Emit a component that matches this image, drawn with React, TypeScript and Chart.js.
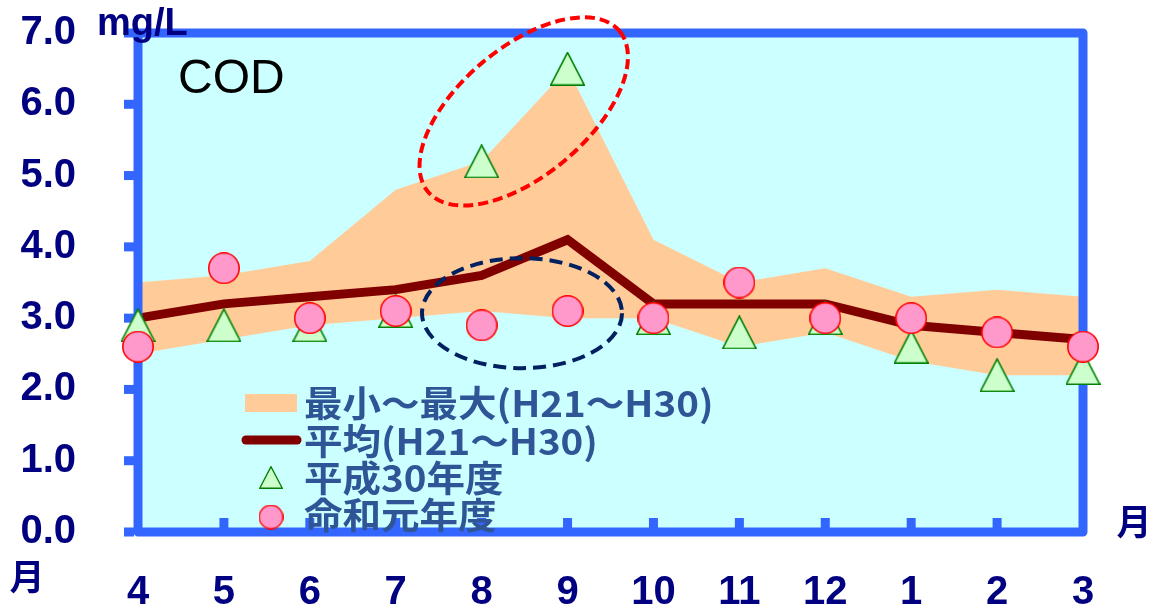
import { useEffect, useRef } from "react";
import { Chart, registerables } from "chart.js";

Chart.register(...registerables);

// Monthly COD readings (mg/L), fiscal year order April -> March
const months = ["4", "5", "6", "7", "8", "9", "10", "11", "12", "1", "2", "3"];
const rangeMax = [3.5, 3.6, 3.8, 4.8, 5.2, 6.5, 4.1, 3.5, 3.7, 3.3, 3.4, 3.3];
const rangeMin = [2.5, 2.7, 2.9, 3.0, 3.1, 3.0, 3.0, 2.6, 2.8, 2.4, 2.2, 2.2];
const averageH21H30 = [3.0, 3.2, 3.3, 3.4, 3.6, 4.1, 3.2, 3.2, 3.2, 2.9, 2.8, 2.7];
const valuesH30 = [2.9, 2.9, 2.9, 3.1, 5.2, 6.5, 3.0, 2.8, 3.0, 2.6, 2.2, 2.3];
const valuesR1 = [2.6, 3.7, 3.0, 3.1, 2.9, 3.1, 3.0, 3.5, 3.0, 3.0, 2.8, 2.6];
const yTickValues = [0, 1, 2, 3, 4, 5, 6, 7];

const labelRange = "最小～最大(H21～H30)";
const labelAverage = "平均(H21～H30)";
const labelH30 = "平成30年度";
const labelR1 = "命和元年度";

const BLUE = "#3366FF";
const NAVY = "#000080";
const PLOT_BG = "#CCFFFF";
const BAND = "#FFCC99";
const AVG = "#800000";
const TRI_FILL = "#CCFFCC";
const TRI_STROKE = "#008000";
const DOT_FILL = "#FF99CC";
const DOT_STROKE = "#FF0000";
const LEGEND_TEXT = "#2F5597";
const LATIN = '"Liberation Sans", Arial, sans-serif';
const CJK = '"Noto Sans CJK JP", "Noto Sans", sans-serif';

function triangleImage(w: number, h: number, lw: number) {
  const c = document.createElement("canvas");
  c.width = w;
  c.height = h;
  const ctx = c.getContext("2d")!;
  ctx.beginPath();
  ctx.moveTo(w / 2, lw / 2);
  ctx.lineTo(w - lw / 2, h - lw / 2);
  ctx.lineTo(lw / 2, h - lw / 2);
  ctx.closePath();
  ctx.fillStyle = TRI_FILL;
  ctx.fill();
  ctx.strokeStyle = TRI_STROKE;
  ctx.lineWidth = lw;
  ctx.stroke();
  return c;
}

function dotImage(w: number, h: number, lw: number) {
  const c = document.createElement("canvas");
  c.width = w;
  c.height = h;
  const ctx = c.getContext("2d")!;
  ctx.beginPath();
  ctx.ellipse(w / 2, h / 2, w / 2 - lw / 2, h / 2 - lw / 2, 0, 0, Math.PI * 2);
  ctx.fillStyle = DOT_FILL;
  ctx.fill();
  ctx.strokeStyle = DOT_STROKE;
  ctx.lineWidth = lw;
  ctx.stroke();
  return c;
}

function stretchedText(
  ctx: CanvasRenderingContext2D,
  text: string,
  x: number,
  y: number,
  sx: number
) {
  ctx.save();
  ctx.translate(x, y);
  ctx.scale(sx, 1);
  ctx.fillText(text, 0, 0);
  ctx.restore();
}

export default function App() {
  const canvasRef = useRef<HTMLCanvasElement | null>(null);

  useEffect(() => {
    const canvas = canvasRef.current;
    if (!canvas) return;

    const triMarker = triangleImage(35, 34, 1.6);
    const dotMarker = dotImage(32, 32, 1.6);
    const triLegend = triangleImage(24, 23, 1.4);
    const dotLegend = dotImage(25, 25, 1.4);

    // plot background, thick frame and tick marks
    const framePlugin = {
      id: "frame",
      beforeDraw(chart: any) {
        const { ctx, chartArea: a } = chart;
        ctx.save();
        ctx.fillStyle = PLOT_BG;
        ctx.fillRect(a.left, a.top, a.right - a.left, a.bottom - a.top);
        ctx.restore();
      },
      afterDatasetDraw(chart: any, args: any) {
        if (args.index !== 2) return;
        const { ctx, chartArea: a, scales } = chart;
        ctx.save();
        ctx.strokeStyle = BLUE;
        ctx.lineWidth = 9;
        ctx.lineJoin = "round";
        ctx.strokeRect(a.left, a.top, a.right - a.left, a.bottom - a.top);
        ctx.fillStyle = BLUE;
        for (const v of yTickValues) {
          const y = scales.y.getPixelForValue(v);
          ctx.fillRect(a.left - 14, y - 4.5, 10, 9);
        }
        for (let i = 1; i < months.length - 1; i++) {
          const x = scales.x.getPixelForValue(i);
          ctx.fillRect(x - 4.5, a.bottom - 14, 9, 10);
        }
        ctx.restore();
      },
    };

    // unit labels, title, highlight ellipses and legend
    const overlayPlugin = {
      id: "overlay",
      afterDraw(chart: any) {
        const { ctx, scales } = chart;
        const xs = scales.x;
        const ys = scales.y;
        ctx.save();

        ctx.fillStyle = NAVY;
        ctx.textBaseline = "alphabetic";
        ctx.textAlign = "left";
        ctx.font = `bold 38px ${LATIN}`;
        ctx.fillText("mg/L", 97, 35);

        ctx.fillStyle = "#000000";
        ctx.font = `48px ${LATIN}`;
        ctx.fillText("COD", 178, 93);

        ctx.fillStyle = NAVY;
        ctx.font = `bold 35px ${CJK}`;
        ctx.textAlign = "center";
        ctx.textBaseline = "middle";
        ctx.fillText("月", 27, 577);
        ctx.fillText("月", 1134, 522);

        // highlighted periods
        ctx.lineWidth = 4;
        ctx.strokeStyle = "#FF0000";
        ctx.setLineDash([10, 5]);
        ctx.beginPath();
        ctx.ellipse(
          xs.getPixelForValue(4.49),
          ys.getPixelForValue(5.9),
          125,
          64,
          (-40 * Math.PI) / 180,
          0,
          Math.PI * 2
        );
        ctx.stroke();

        ctx.strokeStyle = "#002060";
        ctx.setLineDash([13, 7]);
        ctx.beginPath();
        ctx.ellipse(
          xs.getPixelForValue(4.47),
          ys.getPixelForValue(3.07),
          100,
          55,
          0,
          0,
          Math.PI * 2
        );
        ctx.stroke();
        ctx.setLineDash([]);

        // legend
        const ds = chart.data.datasets;
        const textX = 304;
        const rows = [403, 441, 478, 515];
        ctx.fillStyle = BAND;
        ctx.fillRect(245, rows[0] - 9, 52, 18);

        ctx.strokeStyle = AVG;
        ctx.lineWidth = 9;
        ctx.lineCap = "round";
        ctx.beginPath();
        ctx.moveTo(246, rows[1] - 1);
        ctx.lineTo(297, rows[1] - 1);
        ctx.stroke();

        ctx.drawImage(triLegend, 271 - 12, rows[2] - 12);
        ctx.drawImage(dotLegend, 271 - 12.5, rows[3] + 2 - 12.5);

        ctx.fillStyle = LEGEND_TEXT;
        ctx.font = `bold 36px ${CJK}`;
        ctx.textAlign = "left";
        ctx.textBaseline = "middle";
        stretchedText(ctx, ds[0].label, textX, rows[0], 1.07);
        stretchedText(ctx, ds[2].label, textX, rows[1], 1.07);
        stretchedText(ctx, ds[3].label, textX, rows[2], 1.07);
        stretchedText(ctx, ds[4].label, textX, rows[3], 1.07);

        ctx.restore();
      },
    };

    const chart = new Chart(canvas, {
      type: "line",
      data: {
        labels: months,
        datasets: [
          {
            label: labelRange,
            data: rangeMax,
            borderWidth: 0,
            pointRadius: 0,
            backgroundColor: BAND,
            fill: "+1",
            order: 10,
          },
          {
            label: labelRange,
            data: rangeMin,
            borderWidth: 0,
            pointRadius: 0,
            fill: false,
            order: 9,
          },
          {
            label: labelAverage,
            data: averageH21H30,
            borderColor: AVG,
            borderWidth: 9,
            borderJoinStyle: "miter",
            pointRadius: 0,
            fill: false,
            tension: 0,
            clip: false,
            order: 5,
          },
          {
            label: labelH30,
            data: valuesH30,
            showLine: false,
            pointStyle: triMarker,
            pointRadius: 17,
            fill: false,
            clip: false,
            order: 2,
          },
          {
            label: labelR1,
            data: valuesR1,
            showLine: false,
            pointStyle: dotMarker,
            pointRadius: 16,
            fill: false,
            clip: false,
            order: 1,
          },
        ] as any,
      },
      options: {
        animation: false,
        responsive: false,
        events: [],
        layout: { padding: { top: 33, right: 92, left: 0, bottom: 0 } },
        plugins: {
          legend: { display: false },
          tooltip: { enabled: false },
        },
        scales: {
          x: {
            type: "category",
            offset: false,
            grid: { display: false },
            border: { display: false },
            ticks: {
              color: NAVY,
              padding: 29,
              maxRotation: 0,
              autoSkip: false,
              font: { family: LATIN, size: 40, weight: "bold" },
            },
            afterFit(scale: any) {
              scale.height = 73;
              scale.paddingLeft = 0;
              scale.paddingRight = 0;
            },
          },
          y: {
            min: 0,
            max: 7,
            grid: { display: false },
            border: { display: false },
            ticks: {
              stepSize: 1,
              color: NAVY,
              padding: 54,
              font: { family: LATIN, size: 40, weight: "bold" },
              callback: (v: any) => Number(v).toFixed(1),
            },
            afterFit(scale: any) {
              scale.width = 138;
              scale.paddingTop = 0;
              scale.paddingBottom = 0;
            },
          },
        },
      } as any,
      plugins: [framePlugin, overlayPlugin],
    });

    return () => chart.destroy();
  }, []);

  return (
    <div style={{ position: "fixed", left: 0, top: 0, width: 1175, height: 605, background: "#ffffff" }}>
      <canvas ref={canvasRef} width={1175} height={605} />
    </div>
  );
}
